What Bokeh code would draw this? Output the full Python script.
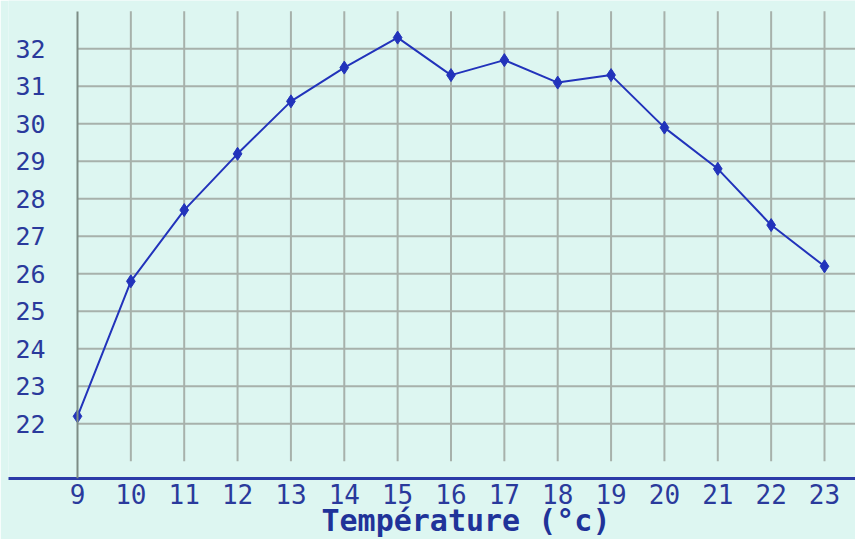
from bokeh.plotting import figure
from bokeh.models import FixedTicker, Range1d, LinearAxis, Title
from bokeh.embed import file_html
from bokeh.resources import INLINE

# ---- data ----
hours = [9, 10, 11, 12, 13, 14, 15, 16, 17, 18, 19, 20, 21, 22, 23]
temps = [22.2, 25.8, 27.7, 29.2, 30.6, 31.5, 32.3, 31.3, 31.7, 31.1, 31.3, 29.9, 28.8, 27.3, 26.2]
y_ticks = [22, 23, 24, 25, 26, 27, 28, 29, 30, 31, 32]
x_title = "Température (°c)"

BG = "#ddf6f1"
GRID = "#a7b1ab"
AXIS_GRAY = "#7d8c85"
BLUE = "#2233bb"
LABEL_BLUE = "#2a3a9c"
FONT = "DejaVu Sans Mono"

x_start, x_end = 7.707, 23.581
y_start, y_end = 20.54, 33.29
grid_low, grid_high = 21, 33

p = figure(width=855, height=539, output_backend="svg", toolbar_location=None,
           x_range=Range1d(x_start, x_end), y_range=Range1d(y_start, y_end),
           y_axis_location=None,
           min_border_left=8, min_border_right=0, min_border_top=0, min_border_bottom=61)
p.background_fill_color = BG
p.border_fill_color = BG
p.outline_line_color = None
p.xgrid.visible = False
p.ygrid.visible = False

# grid lines
p.segment(x0=hours[1:], y0=[grid_low] * (len(hours) - 1), x1=hours[1:], y1=[grid_high] * (len(hours) - 1),
          line_color=GRID, line_width=2)
p.segment(x0=[hours[0]] * len(y_ticks), y0=y_ticks, x1=[hours[-1] + 1] * len(y_ticks), y1=y_ticks,
          line_color=GRID, line_width=2)

# x axis
xa = p.xaxis[0]
xa.ticker = FixedTicker(ticks=hours)
xa.major_tick_in = 0
xa.major_tick_out = 0
xa.minor_tick_in = 0
xa.minor_tick_out = 0
xa.axis_line_color = "#2b3aa8"
xa.axis_line_width = 3
xa.major_label_standoff = 5
xa.major_label_text_color = LABEL_BLUE
xa.major_label_text_font = FONT
xa.major_label_text_font_size = "26px"

# y axis at x = 9
ya = LinearAxis(fixed_location=hours[0], ticker=FixedTicker(ticks=y_ticks), bounds=(y_start, grid_high))
ya.major_tick_in = 0
ya.major_tick_out = 0
ya.minor_tick_in = 0
ya.minor_tick_out = 0
ya.axis_line_color = AXIS_GRAY
ya.axis_line_width = 2
ya.major_label_standoff = 32
ya.major_label_text_color = LABEL_BLUE
ya.major_label_text_font = FONT
ya.major_label_text_font_size = "25px"
p.add_layout(ya, "left")

# data
p.line(hours, temps, line_color=BLUE, line_width=2)
p.scatter(hours, temps, marker="diamond", size=13, fill_color=BLUE, line_color=BLUE)

# x title
title = Title(text=x_title, align="left", offset=313, vertical_align="top", standoff=-8,
              text_color="#1f3399", text_font=FONT, text_font_style="bold", text_font_size="30px")
p.add_layout(title, "below")

open("out.html", "w").write(file_html(p, INLINE))
